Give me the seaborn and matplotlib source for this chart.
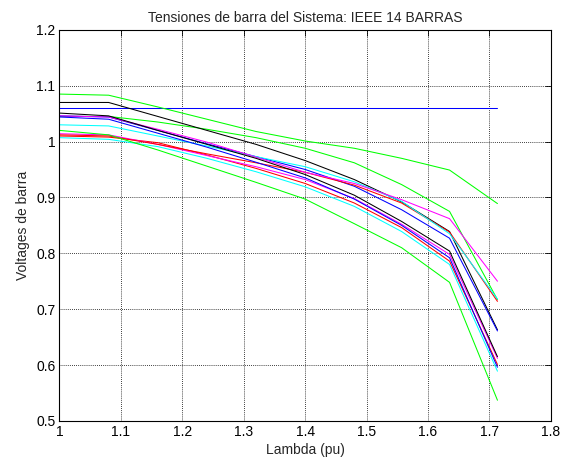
import numpy as np
import pandas as pd
import matplotlib
matplotlib.use("Agg")
import matplotlib.pyplot as plt
import seaborn as sns

sns.set_style("white")
plt.rcParams['font.family'] = ['Liberation Sans', 'DejaVu Sans']

lam = [1.0, 1.08, 1.16, 1.24, 1.32, 1.40, 1.48, 1.557, 1.635, 1.713]

v_bus = {
    1:  [1.060, 1.060, 1.060, 1.060, 1.060, 1.060, 1.060, 1.060, 1.060, 1.060],
    2:  [1.045, 1.045, 1.035, 1.022, 1.007, 0.988, 0.962, 0.923, 0.875, 0.717],
    3:  [1.010, 1.008, 0.998, 0.976, 0.952, 0.925, 0.890, 0.846, 0.786, 0.601],
    4:  [1.007, 1.004, 0.991, 0.970, 0.946, 0.919, 0.884, 0.839, 0.780, 0.589],
    5:  [1.014, 1.012, 0.995, 0.975, 0.955, 0.932, 0.898, 0.852, 0.798, 0.612],
    6:  [1.070, 1.070, 1.045, 1.020, 0.995, 0.966, 0.932, 0.892, 0.839, 0.663],
    7:  [1.046, 1.044, 1.020, 0.996, 0.973, 0.950, 0.920, 0.878, 0.827, 0.661],
    8:  [1.085, 1.083, 1.062, 1.040, 1.018, 1.001, 0.988, 0.970, 0.949, 0.889],
    9:  [1.012, 1.010, 0.995, 0.978, 0.962, 0.945, 0.922, 0.890, 0.838, 0.714],
    10: [1.030, 1.028, 1.010, 0.992, 0.973, 0.955, 0.928, 0.893, 0.835, 0.718],
    11: [1.046, 1.044, 1.022, 0.999, 0.972, 0.945, 0.925, 0.896, 0.862, 0.750],
    12: [1.051, 1.046, 1.020, 0.995, 0.970, 0.941, 0.904, 0.857, 0.804, 0.615],
    13: [1.044, 1.040, 1.015, 0.990, 0.963, 0.935, 0.897, 0.850, 0.792, 0.596],
    14: [1.020, 1.012, 0.985, 0.956, 0.927, 0.897, 0.853, 0.810, 0.748, 0.537],
}

xticks = [1, 1.1, 1.2, 1.3, 1.4, 1.5, 1.6, 1.7, 1.8]
xticklabels = ['1', '1.1', '1.2', '1.3', '1.4', '1.5', '1.6', '1.7', '1.8']
yticks = [0.5, 0.6, 0.7, 0.8, 0.9, 1.0, 1.1, 1.2]
yticklabels = ['0.5', '0.6', '0.7', '0.8', '0.9', '1', '1.1', '1.2']

cycle = ['#0000ff', '#00ff00', '#ff0000', '#00ffff', '#ff00ff', '#000000']

rows = []
for b, vals in v_bus.items():
    for l, v in zip(lam, vals):
        rows.append({'bus': b, 'lambda': l, 'v': v})
df = pd.DataFrame(rows)
palette = {b: cycle[(b - 1) % 6] for b in v_bus}

fig = plt.figure(figsize=(5.61, 4.59), dpi=100)
ax = fig.add_axes([0.106, 0.083, 0.876, 0.852])

sns.lineplot(data=df, x='lambda', y='v', hue='bus', palette=palette,
             estimator=None, sort=False, legend=False, linewidth=0.75, ax=ax)

ax.set_xlim(1, 1.8)
ax.set_ylim(0.5, 1.2)
ax.set_xticks(xticks)
ax.set_xticklabels(xticklabels)
ax.set_yticks(yticks)
ax.set_yticklabels(yticklabels)
ax.grid(True, color='black', linestyle=(0, (1, 1.5)), linewidth=0.6)
ax.tick_params(direction='in', length=4, width=0.6, top=True, right=True,
               labelsize=10, colors='black', pad=3)
for s in ax.spines.values():
    s.set_color('black')
    s.set_linewidth(0.8)

ax.set_title('Tensiones de barra del Sistema: IEEE 14 BARRAS', fontsize=10, pad=6)
ax.set_xlabel('Lambda (pu)', fontsize=10, labelpad=3)
ax.set_ylabel('Voltages de barra', fontsize=10, labelpad=4)

fig.savefig('out.png', dpi=100, facecolor='white')
